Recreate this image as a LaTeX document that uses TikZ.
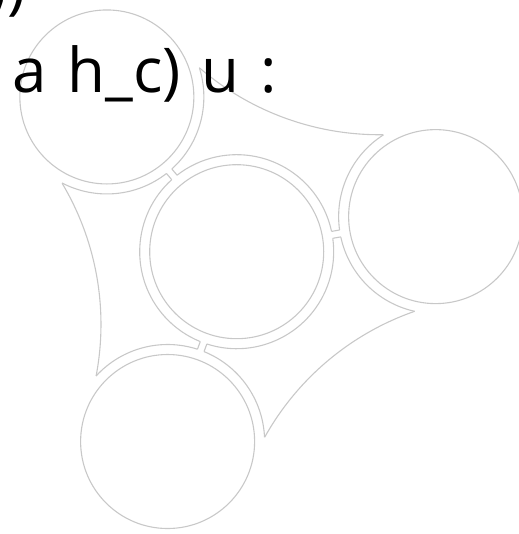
\documentclass[tikz,border=0pt]{standalone}
\usepackage{fontspec}
\setsansfont{Open Sans}
\usetikzlibrary{calc}
\definecolor{ringgray}{RGB}{200,200,200}
\newcommand{\capfont}{\sffamily\fontsize{62}{70}\selectfont\spaceskip=21bp\relax}

\begin{document}
\begin{tikzpicture}[
    x=1bp,y=1bp,
    ball/.style={circle,draw=ringgray,line width=1.1bp,minimum size=174bp,inner sep=0pt},
    rim/.style={draw=ringgray,line width=1.1bp},
    caption/.style={font=\capfont,inner sep=0pt}
  ]
    \useasboundingbox (0,0) rectangle (519,534);
    \clip (0,0) rectangle (519,534);
    \coordinate (hub) at (236.7,282.3);
    \node[ball] (core) at (hub) {};

    \foreach \a/\ball in {10/right,130/topleft,250/bottom} {
      \node[ball] (\ball) at ($(hub)+(\a:202)$) {};
      % rim of the outer ball, facing the hub
      \draw[rim] ($(\ball)+(\a+112.5:97)$) arc[start angle=\a+112.5, end angle=\a+177.93, radius=97];
      \draw[rim] ($(\ball)+(\a+182.07:97)$) arc[start angle=\a+182.07, end angle=\a+247.5, radius=97];
      % rim of the hub
      \draw[rim] ($(hub)+(\a+2.07:97)$) arc[start angle=\a+2.07, end angle=\a+117.93, radius=97];
      % neck between the two rims
      \draw[rim] ($(hub)+(\a+2.07:97)$) -- ($(\ball)+(\a+177.93:97)$);
      \draw[rim] ($(hub)+(\a-2.07:97)$) -- ($(\ball)+(\a+182.07:97)$);
      % concave edge over to the next ball
      \draw[rim] ($(\ball)+(\a+247.5:97)$) arc[start angle=\a+99.2, end angle=\a+140.8, radius=275.5];
    }

    \node[caption,anchor=base east] (linea) at (26,526) {,)};
    \node[caption,anchor=base west] (lineb) at (12,441) {a h\_c) u :};
  \end{tikzpicture}
\end{document}
